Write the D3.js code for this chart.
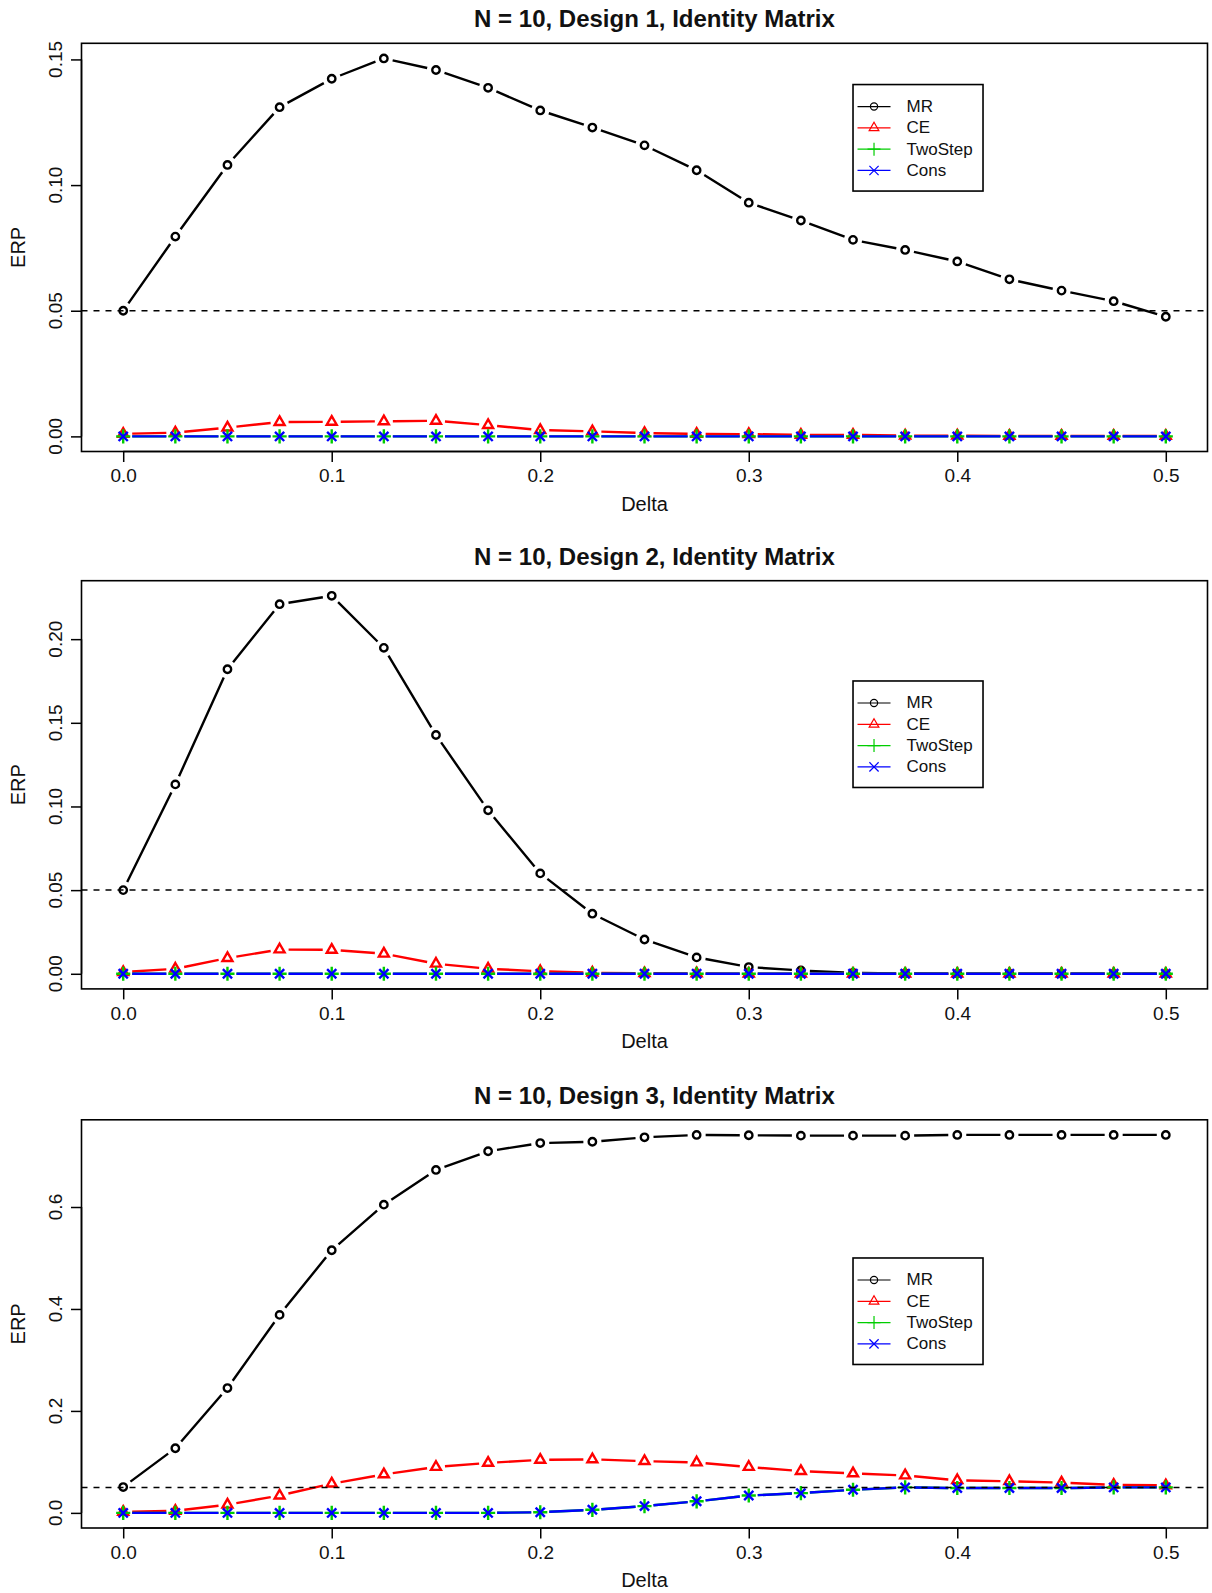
<!DOCTYPE html>
<html>
<head>
<meta charset="utf-8">
<script src="https://cdn.jsdelivr.net/npm/d3@7"></script>
<style>
  body { margin: 0; background: #fff; }
  svg { display: block; font-family: "Liberation Sans", Arial, sans-serif; }
</style>
</head>
<body>
<div id="chart"></div>
<script>
// x values (Delta)
const delta = [0, 0.025, 0.05, 0.075, 0.1, 0.125, 0.15, 0.175, 0.2, 0.225, 0.25,
  0.275, 0.3, 0.325, 0.35, 0.375, 0.4, 0.425, 0.45, 0.475, 0.5];

const seriesNames = ['MR', 'CE', 'TwoStep', 'Cons'];

// Design 1
const mr1 = [0.050, 0.0795, 0.108, 0.131, 0.1423, 0.1504, 0.1458, 0.1387, 0.1297, 0.1229, 0.1158,
  0.1059, 0.0930, 0.0859, 0.0782, 0.0742, 0.0696, 0.0625, 0.0580, 0.0538, 0.0476];
const ce1 = [0.001, 0.0015, 0.0035, 0.0057, 0.0058, 0.006, 0.0062, 0.0045, 0.0025, 0.002, 0.0013,
  0.001, 0.0009, 0.0006, 0.0006, 0.0003, 0.0003, 0.0002, 0.0002, 0.0002, 0.0002];
const two1 = [0, 0, 0, 0, 0, 0, 0, 0, 0, 0, 0, 0, 0, 0, 0, 0, 0, 0, 0, 0, 0];
const cons1 = [0, 0, 0, 0, 0, 0, 0, 0, 0, 0, 0, 0, 0, 0, 0, 0, 0, 0, 0, 0, 0];

// Design 2
const mr2 = [0.050, 0.1132, 0.182, 0.2209, 0.2259, 0.1948, 0.1427, 0.0977, 0.060, 0.0359, 0.0205,
  0.0098, 0.004, 0.002, 0.0006, 0.0002, 0.0001, 0.0001, 0, 0, 0];
const ce2 = [0.001, 0.003, 0.0094, 0.0145, 0.0143, 0.012, 0.006, 0.003, 0.0015, 0.0006, 0.0003,
  0.0002, 0.0001, 0.0001, 0, 0, 0, 0, 0, 0, 0];
const two2 = [0, 0, 0, 0, 0, 0, 0, 0, 0, 0, 0, 0, 0, 0, 0, 0, 0, 0, 0, 0, 0];
const cons2 = [0, 0, 0, 0, 0, 0, 0, 0, 0, 0, 0, 0, 0, 0, 0, 0, 0, 0, 0, 0, 0];

// Design 3
const mr3 = [0.0507, 0.1268, 0.2449, 0.3884, 0.5152, 0.6046, 0.6727, 0.7094, 0.7254, 0.728, 0.7367,
  0.7414, 0.7407, 0.740, 0.740, 0.740, 0.7414, 0.7414, 0.7414, 0.7414, 0.7414];
const ce3 = [0.002, 0.004, 0.016, 0.034, 0.0574, 0.0754, 0.090, 0.098, 0.104, 0.105, 0.1014,
  0.0988, 0.090, 0.082, 0.0774, 0.0734, 0.064, 0.062, 0.0595, 0.055, 0.054];
const two3 = [0, 0, 0, 0, 0, 0, 0, 0, 0.0013, 0.006, 0.0133, 0.0227, 0.034, 0.0387, 0.0454, 0.050,
  0.0487, 0.0487, 0.0487, 0.050, 0.050];
const cons3 = [0, 0, 0, 0, 0, 0, 0, 0, 0.0013, 0.006, 0.0133, 0.0227, 0.034, 0.0387, 0.0454, 0.050,
  0.0487, 0.0487, 0.0487, 0.050, 0.050];

const titles = ['N = 10, Design 1, Identity Matrix', 'N = 10, Design 2, Identity Matrix',
  'N = 10, Design 3, Identity Matrix'];
const xTicks = [0, 0.1, 0.2, 0.3, 0.4, 0.5];
const yTicks1 = [0, 0.05, 0.10, 0.15];
const yTicks2 = [0, 0.05, 0.10, 0.15, 0.20];
const yTicks3 = [0, 0.2, 0.4, 0.6];
const refLevel = 0.05;
// legend top-left corner in data units (x, y)
const legendAt = [[0.35, 0.14], [0.35, 0.175], [0.35, 0.5]];

const panels = [
  { title: titles[0], series: [mr1, ce1, two1, cons1], yTicks: yTicks1, yFmt: '.2f', legend: legendAt[0] },
  { title: titles[1], series: [mr2, ce2, two2, cons2], yTicks: yTicks2, yFmt: '.2f', legend: legendAt[1] },
  { title: titles[2], series: [mr3, ce3, two3, cons3], yTicks: yTicks3, yFmt: '.1f', legend: legendAt[2] }
];

const COLORS = ['#000000', '#ff0000', '#00cd00', '#0000ff'];
const SHAPES = ['circle', 'triangle', 'plus', 'cross'];
const SIZES = [3.7, 3.7, 5, 4.6];

const W = 1212, H = 1593;
const plotLeft = 81.5, plotRight = 1207.5, plotH = 408.2;
const plotTops = [43.3, 580.7, 1119.8];

const svg = d3.select('#chart').append('svg')
  .attr('width', W).attr('height', H)
  .attr('viewBox', `0 0 ${W} ${H}`);

svg.append('rect').attr('width', W).attr('height', H).attr('fill', '#fff');

// R style 4% padding
function padded(lo, hi) {
  const d = (hi - lo) * 0.04;
  return [lo - d, hi + d];
}

function markerPath(shape, s) {
  const p = d3.path();
  if (shape === 'circle') {
    p.moveTo(s, 0); p.arc(0, 0, s, 0, 2 * Math.PI);
  } else if (shape === 'triangle') {
    const r = 1.555 * s, xc = 1.347 * s, yc = 0.778 * s;
    p.moveTo(0, -r); p.lineTo(xc, yc); p.lineTo(-xc, yc); p.closePath();
  } else if (shape === 'plus') {
    const a = 1.414 * s;
    p.moveTo(-a, 0); p.lineTo(a, 0); p.moveTo(0, -a); p.lineTo(0, a);
  } else {
    p.moveTo(-s, -s); p.lineTo(s, s); p.moveTo(-s, s); p.lineTo(s, -s);
  }
  return p.toString();
}

// line with gaps around points (R type = "b")
function gappedPath(pts, gap) {
  let d = '';
  for (let i = 0; i < pts.length - 1; i++) {
    const [x0, y0] = pts[i], [x1, y1] = pts[i + 1];
    const len = Math.hypot(x1 - x0, y1 - y0);
    if (len <= 2 * gap) continue;
    const ux = (x1 - x0) / len, uy = (y1 - y0) / len;
    d += `M${x0 + ux * gap},${y0 + uy * gap}L${x1 - ux * gap},${y1 - uy * gap}`;
  }
  return d;
}

const x = d3.scaleLinear().domain(padded(0, 0.5)).range([plotLeft, plotRight]);

panels.forEach((panel, pi) => {
  const top = plotTops[pi], bottom = top + plotH;
  const allVals = panel.series.flat();
  const y = d3.scaleLinear()
    .domain(padded(d3.min(allVals), d3.max(allVals)))
    .range([bottom, top]);

  const g = svg.append('g');

  // title
  g.append('text')
    .attr('x', (plotLeft + plotRight) / 2 + 10)
    .attr('y', top - 24.5)
    .attr('text-anchor', 'middle')
    .attr('dominant-baseline', 'central')
    .attr('font-size', 24).attr('font-weight', 'bold')
    .attr('fill', '#111')
    .text(panel.title);

  // x axis
  const xAxis = g.append('g')
    .attr('transform', `translate(0,${bottom})`)
    .call(d3.axisBottom(x).tickValues(xTicks).tickFormat(d3.format('.1f'))
      .tickSizeInner(10.5).tickSizeOuter(0).tickPadding(7));
  xAxis.select('.domain').remove();
  xAxis.selectAll('.tick line').attr('stroke', '#000').attr('stroke-width', 1.5);
  xAxis.selectAll('.tick text').attr('font-size', 19).attr('fill', '#111')
    .attr('font-family', '"Liberation Sans", Arial, sans-serif');
  g.append('line')
    .attr('x1', x(xTicks[0])).attr('x2', x(xTicks[xTicks.length - 1]))
    .attr('y1', bottom).attr('y2', bottom)
    .attr('stroke', '#000').attr('stroke-width', 1.5);

  // y axis
  const yAxis = g.append('g')
    .attr('transform', `translate(${plotLeft},0)`)
    .call(d3.axisLeft(y).tickValues(panel.yTicks).tickFormat('')
      .tickSizeInner(10.5).tickSizeOuter(0));
  yAxis.select('.domain').remove();
  yAxis.selectAll('.tick line').attr('stroke', '#000').attr('stroke-width', 1.5);
  g.append('line')
    .attr('x1', plotLeft).attr('x2', plotLeft)
    .attr('y1', y(panel.yTicks[0])).attr('y2', y(panel.yTicks[panel.yTicks.length - 1]))
    .attr('stroke', '#000').attr('stroke-width', 1.5);
  g.selectAll('.ylab').data(panel.yTicks).enter().append('text')
    .attr('class', 'ylab')
    .attr('transform', d => `translate(${plotLeft - 26.5},${y(d)}) rotate(-90)`)
    .attr('text-anchor', 'middle')
    .attr('dominant-baseline', 'central')
    .attr('font-size', 19).attr('fill', '#111')
    .text(d => d3.format(panel.yFmt)(d));

  // axis labels
  g.append('text')
    .attr('x', (plotLeft + plotRight) / 2)
    .attr('y', bottom + 52)
    .attr('text-anchor', 'middle').attr('dominant-baseline', 'central')
    .attr('font-size', 20).attr('fill', '#111')
    .text('Delta');
  g.append('text')
    .attr('transform', `translate(${plotLeft - 64},${(top + bottom) / 2}) rotate(-90)`)
    .attr('text-anchor', 'middle').attr('dominant-baseline', 'central')
    .attr('font-size', 20).attr('fill', '#111')
    .text('ERP');

  // box
  g.append('rect')
    .attr('x', plotLeft).attr('y', top)
    .attr('width', plotRight - plotLeft).attr('height', plotH)
    .attr('fill', 'none').attr('stroke', '#000').attr('stroke-width', 1.6);

  // series
  panel.series.forEach((vals, si) => {
    const pts = vals.map((v, i) => [x(delta[i]), y(v)]);
    const sg = g.append('g');
    sg.append('path')
      .attr('d', gappedPath(pts, 9))
      .attr('fill', 'none')
      .attr('stroke', COLORS[si]).attr('stroke-width', 2.4);
    sg.selectAll('path.pt').data(pts).enter().append('path')
      .attr('class', 'pt')
      .attr('transform', d => `translate(${d[0]},${d[1]})`)
      .attr('d', markerPath(SHAPES[si], SIZES[si]))
      .attr('fill', 'none')
      .attr('stroke', COLORS[si]).attr('stroke-width', 2.4);
  });

  // reference line
  g.append('line')
    .attr('x1', plotLeft).attr('x2', plotRight)
    .attr('y1', y(refLevel)).attr('y2', y(refLevel))
    .attr('stroke', '#000').attr('stroke-width', 1.5)
    .attr('stroke-dasharray', '6,6');

  // legend
  const lx = x(panel.legend[0]), ly = y(panel.legend[1]);
  const lg = g.append('g').attr('transform', `translate(${lx},${ly})`);
  lg.append('rect')
    .attr('width', 130).attr('height', 106.5)
    .attr('fill', '#fff').attr('stroke', '#000').attr('stroke-width', 1.6);
  seriesNames.forEach((name, si) => {
    const ey = 22 + si * 21.3;
    lg.append('line')
      .attr('x1', 4.5).attr('x2', 37.5).attr('y1', ey).attr('y2', ey)
      .attr('stroke', COLORS[si]).attr('stroke-width', 1.2);
    lg.append('path')
      .attr('transform', `translate(21,${ey})`)
      .attr('d', markerPath(SHAPES[si], si < 2 ? 3.6 : 4.6))
      .attr('fill', 'none').attr('stroke', COLORS[si]).attr('stroke-width', 1.2);
    lg.append('text')
      .attr('x', 53.5).attr('y', ey)
      .attr('dominant-baseline', 'central')
      .attr('font-size', 17).attr('fill', '#111')
      .text(name);
  });
});
</script>
</body>
</html>
